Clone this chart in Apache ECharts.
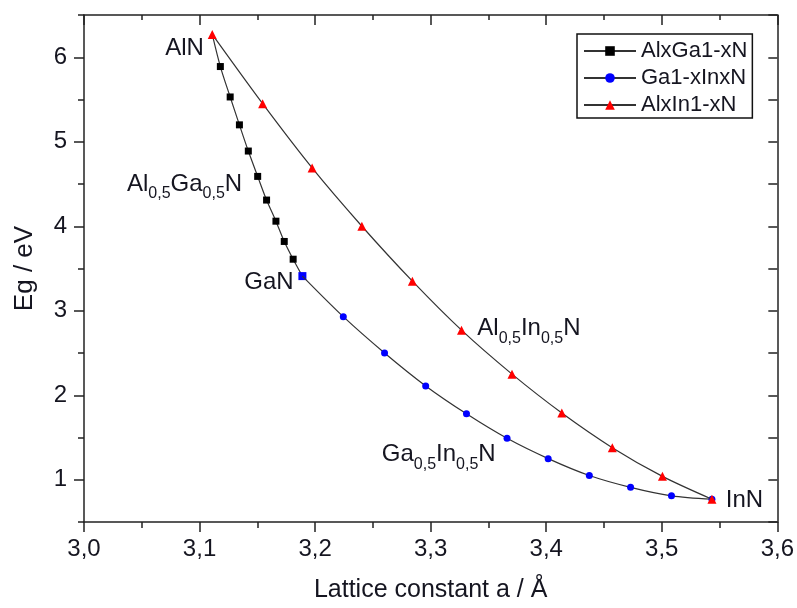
<!DOCTYPE html>
<html>
<head>
<meta charset="utf-8">
<script src="https://cdn.jsdelivr.net/npm/echarts@6/dist/echarts.min.js"></script>
<style>
html,body{margin:0;padding:0;background:#fff;}
#chart{width:797px;height:608px;}
</style>
</head>
<body>
<div id="chart"></div>
<script>
// ---- data (lattice constant a in Å, band gap Eg in eV) ----
var seriesNames = ['AlxGa1-xN', 'Ga1-xInxN', 'AlxIn1-xN'];
var alGaN_a  = [3.111, 3.118, 3.1265, 3.1345, 3.1422, 3.1503, 3.158, 3.1661, 3.1733, 3.181, 3.189];
var alGaN_eg = [6.27, 5.89, 5.53, 5.20, 4.89, 4.59, 4.31, 4.06, 3.82, 3.61, 3.41];
var gaInN_a  = [3.189, 3.2244, 3.2601, 3.2957, 3.331, 3.3661, 3.4017, 3.4373, 3.473, 3.5084, 3.5434];
var gaInN_eg = [3.41, 2.93, 2.50, 2.11, 1.78, 1.49, 1.25, 1.05, 0.91, 0.81, 0.77];
var alInN_a  = [3.111, 3.1546, 3.1974, 3.2405, 3.2842, 3.3267, 3.3704, 3.4135, 3.4572, 3.5006, 3.5434];
var alInN_eg = [6.27, 5.45, 4.69, 4.00, 3.35, 2.77, 2.25, 1.79, 1.38, 1.04, 0.77];
var xTicks = [3.0, 3.1, 3.2, 3.3, 3.4, 3.5, 3.6];
var yTicks = [1, 2, 3, 4, 5, 6];
// annotation labels: [text rich format, a, Eg]
var annotations = [
  ['{n|AlN}', 3.087, 6.10],
  ['{n|Al}{s|0,5}{n|Ga}{s|0,5}{n|N}', 3.087, 4.50],
  ['{n|GaN}', 3.160, 3.33],
  ['{n|Al}{s|0,5}{n|In}{s|0,5}{n|N}', 3.385, 2.79],
  ['{n|Ga}{s|0,5}{n|In}{s|0,5}{n|N}', 3.307, 1.30],
  ['{n|InN}', 3.5716, 0.76]
];

function zip(a, b) { return a.map(function (v, i) { return [v, b[i]]; }); }

var FONT = '"Liberation Sans", Arial, Helvetica, sans-serif';
var TXT = '#151520';
var AX = '#222';

var alGaNData = zip(alGaN_a, alGaN_eg).map(function (p, i, arr) {
  if (i === 0) return { value: p, symbol: 'none' };
  if (i === arr.length - 1) return { value: p, symbolSize: 8, itemStyle: { color: '#0000ff' } };
  return p;
});
var gaInNData = zip(gaInN_a, gaInN_eg).map(function (p, i) {
  if (i === 0) return { value: p, symbol: 'none' };
  return p;
});
var alInNData = zip(alInN_a, alInN_eg);

var richStyle = {
  n: { fontSize: 24, fontFamily: FONT, color: TXT },
  s: { fontSize: 16, fontFamily: FONT, color: TXT, padding: [20, 0, 0, 0] }
};

var markData = annotations.map(function (a) {
  return {
    coord: [a[1], a[2]],
    symbol: 'circle',
    symbolSize: 0,
    label: { show: true, position: 'inside', formatter: a[0], rich: richStyle }
  };
});

var chart = echarts.init(document.getElementById('chart'), null, { renderer: 'canvas' });
var option = {
  backgroundColor: '#fff',
  animation: false,
  textStyle: { fontFamily: FONT, color: TXT },
  grid: { left: 84, right: 17, top: 15, bottom: 83, containLabel: false },
  legend: {
    orient: 'vertical',
    left: 577,
    top: 34,
    data: seriesNames,
    borderColor: '#111',
    borderWidth: 1.5,
    borderRadius: 0,
    padding: [6, 5, 2, 6],
    itemWidth: 52,
    itemHeight: 12,
    itemGap: 5,
    textStyle: { fontSize: 22, fontFamily: FONT, color: TXT, lineHeight: 22 }
  },
  xAxis: [
    {
      type: 'value', position: 'bottom', min: 3.0, max: 3.6, interval: 0.1,
      name: 'Lattice constant a / Å', nameLocation: 'middle', nameGap: 56,
      nameTextStyle: { fontSize: 25, fontFamily: FONT, color: TXT },
      axisLine: { show: true, onZero: false, lineStyle: { color: AX, width: 1.5 } },
      axisTick: { show: true, inside: false, length: 10, lineStyle: { color: AX, width: 1.5 } },
      minorTick: { show: true, splitNumber: 2, length: 6, lineStyle: { color: AX, width: 1.5 } },
      axisLabel: {
        fontSize: 24, fontFamily: FONT, color: TXT, margin: 15,
        customValues: xTicks,
        formatter: function (v) { return v.toFixed(1).replace('.', ','); }
      },
      splitLine: { show: false }
    },
    {
      type: 'value', position: 'top', min: 3.0, max: 3.6, interval: 0.1,
      axisLine: { show: true, onZero: false, lineStyle: { color: AX, width: 1.5 } },
      axisTick: { show: true, inside: true, length: 10, lineStyle: { color: AX, width: 1.5 } },
      minorTick: { show: true, splitNumber: 2, length: 5, lineStyle: { color: AX, width: 1.5 } },
      axisLabel: { show: false },
      splitLine: { show: false }
    }
  ],
  yAxis: [
    {
      type: 'value', position: 'left', min: 0.5, max: 6.5, interval: 0.5,
      name: 'Eg / eV', nameLocation: 'middle', nameGap: 46, nameRotate: 90,
      nameTextStyle: { fontSize: 26, fontFamily: FONT, color: TXT },
      axisLine: { show: true, onZero: false, lineStyle: { color: AX, width: 1.5 } },
      axisTick: { show: true, inside: false, length: 6, lineStyle: { color: AX, width: 1.5 } },
      axisLabel: {
        fontSize: 24, fontFamily: FONT, color: TXT, margin: 17,
        customValues: yTicks,
        formatter: function (v) { return String(Math.round(v)); }
      },
      splitLine: { show: false }
    },
    {
      type: 'value', position: 'left', min: 0.5, max: 6.5, interval: 0.5,
      axisLine: { show: false },
      axisTick: { show: true, inside: false, length: 10, customValues: yTicks, lineStyle: { color: AX, width: 1.5 } },
      axisLabel: { show: false },
      splitLine: { show: false }
    },
    {
      type: 'value', position: 'right', min: 0.5, max: 6.5, interval: 0.5,
      axisLine: { show: true, onZero: false, lineStyle: { color: AX, width: 1.5 } },
      axisTick: { show: true, inside: true, length: 9, lineStyle: { color: AX, width: 1.5 } },
      axisLabel: { show: false },
      splitLine: { show: false }
    }
  ],
  series: [
    {
      name: seriesNames[0], type: 'line', data: alGaNData, smooth: 0.3,
      symbol: 'rect', symbolSize: 7,
      itemStyle: { color: '#000' },
      lineStyle: { color: '#333', width: 1.2 },
      markPoint: { silent: true, data: markData, itemStyle: { color: 'transparent' } },
      z: 2
    },
    {
      name: seriesNames[1], type: 'line', data: gaInNData, smooth: 0.3,
      symbol: 'circle', symbolSize: 7,
      itemStyle: { color: '#0000ff' },
      lineStyle: { color: '#333', width: 1.2 },
      z: 3
    },
    {
      name: seriesNames[2], type: 'line', data: alInNData, smooth: 0.3,
      symbol: 'triangle', symbolSize: 9,
      itemStyle: { color: '#ff0000' },
      lineStyle: { color: '#333', width: 1.2 },
      z: 4
    }
  ]
};
chart.setOption(option);
</script>
</body>
</html>
